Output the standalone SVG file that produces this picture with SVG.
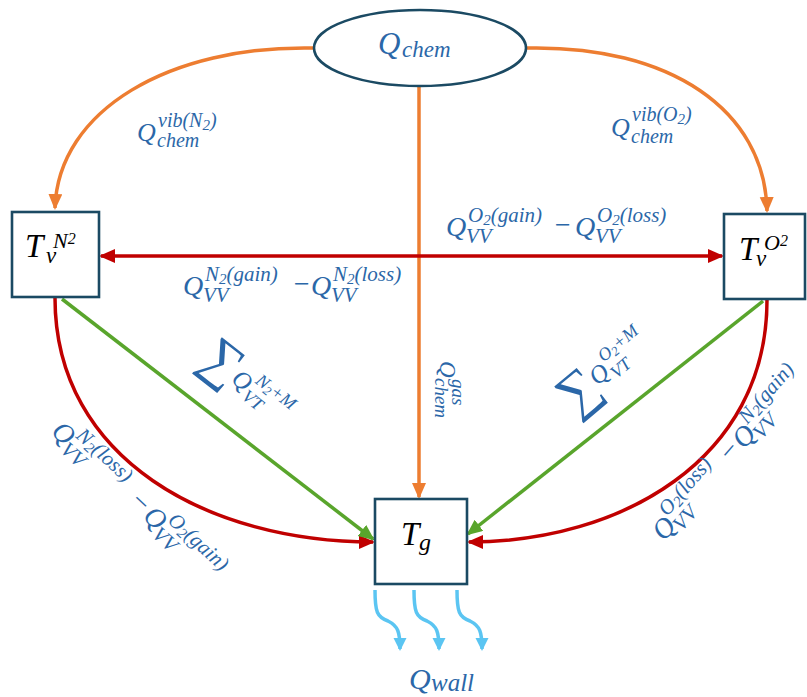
<svg xmlns="http://www.w3.org/2000/svg" width="807" height="697" viewBox="0 0 807 697">
<style>
.box{fill:#fff;stroke:#1B4A63;stroke-width:2.6}
.lbl{font-family:"Liberation Serif","DejaVu Serif",serif;font-style:italic;fill:#2B67A8}
.blk{font-family:"Liberation Serif","DejaVu Serif",serif;font-style:italic;fill:#000}
.q{font-size:28px}
.s{font-size:21px}
.ss{font-size:15px}
.or{fill:none;stroke:#ED7D31;stroke-width:3.5}
.rd{fill:none;stroke:#C00000;stroke-width:3.5}
.gr{fill:none;stroke:#59A52C;stroke-width:3.5}
.bl{fill:none;stroke:#5BC5F2;stroke-width:3.5}
.sig{font-family:"Liberation Serif","DejaVu Serif",serif;font-style:normal;fill:#2B67A8}
</style>
<defs>
<marker id="aO" markerUnits="userSpaceOnUse" markerWidth="18" markerHeight="16" refX="14" refY="7" orient="auto"><path d="M0,0 L16,7 L0,14 z" fill="#ED7D31"/></marker>
<marker id="aR" markerUnits="userSpaceOnUse" markerWidth="18" markerHeight="16" refX="14" refY="7" orient="auto-start-reverse"><path d="M0,0 L16,7 L0,14 z" fill="#C00000"/></marker>
<marker id="aG" markerUnits="userSpaceOnUse" markerWidth="18" markerHeight="16" refX="14" refY="7" orient="auto"><path d="M0,0 L16,7 L0,14 z" fill="#59A52C"/></marker>
<marker id="aB" markerUnits="userSpaceOnUse" markerWidth="16" markerHeight="14" refX="11" refY="6.5" orient="auto"><path d="M0,0 L13,6.5 L0,13 z" fill="#5BC5F2"/></marker>
</defs>

<g id="connectors">
<path class="or" d="M314,48 C170,45 58,110 55,208" marker-end="url(#aO)"/>
<path class="or" d="M527,48 C670,45 765,110 767,211" marker-end="url(#aO)"/>
<path class="or" d="M419,87 L419,497" marker-end="url(#aO)"/>
<path class="rd" d="M101,256 L722,256" marker-start="url(#aR)" marker-end="url(#aR)"/>
<path class="rd" d="M55,298 C55,460 210,542 373,542" marker-end="url(#aR)"/>
<path class="rd" d="M767,300 C767,460 620,542 469,542" marker-end="url(#aR)"/>
<path class="gr" d="M62,299 L373,539" marker-end="url(#aG)"/>
<path class="gr" d="M763,301 L468,534" marker-end="url(#aG)"/>
<path class="bl" d="M375,590 C375,612 377,617 388,621 C398,626 400,632 400,649" marker-end="url(#aB)"/>
<path class="bl" d="M414,590 C414,612 416,617 427,621 C437,626 439,632 439,649" marker-end="url(#aB)"/>
<path class="bl" d="M457,590 C457,612 459,617 470,621 C480,626 482,632 482,649" marker-end="url(#aB)"/>
</g>

<g id="node-qchem">
<ellipse cx="420" cy="48" rx="106" ry="38" class="box"/>
<text class="lbl" x="378" y="54" font-size="31">Q</text>
<text class="lbl" x="402" y="57" font-size="23">chem</text>
</g>

<g id="node-tvn2">
<rect class="box" x="12" y="212" width="87" height="85"/>
<text class="blk" x="25" y="257" font-size="33">T</text>
<text class="blk" x="46" y="263" font-size="23">v</text>
<text class="blk" x="53" y="248" font-size="22">N<tspan font-size="16" dy="-4">2</tspan></text>
</g>

<g id="node-tvo2">
<rect class="box" x="724" y="214" width="81" height="85"/>
<text class="blk" x="739" y="260" font-size="33">T</text>
<text class="blk" x="756" y="266" font-size="23">v</text>
<text class="blk" x="764" y="250" font-size="22">O<tspan font-size="16" dy="-4">2</tspan></text>
</g>

<g id="node-tg">
<rect class="box" x="375" y="499" width="92" height="85"/>
<text class="blk" x="401" y="545" font-size="33">T</text>
<text class="blk" x="419" y="550" font-size="24">g</text>
</g>

<g id="label-qwall">
<text class="lbl" x="409" y="689" font-size="30">Q</text>
<text class="lbl" x="431" y="691" font-size="25">wall</text>
</g>

<g id="labels">
<!-- Q_chem^{vib(N2)} -->
<text class="lbl" x="137" y="141" font-size="26">Q</text>
<text class="lbl" x="158" y="127" font-size="20">vib(N<tspan class="ss" dy="3">2</tspan><tspan dy="-3">)</tspan></text>
<text class="lbl" x="157" y="147" font-size="20">chem</text>
<!-- Q_chem^{vib(O2)} -->
<text class="lbl" x="611" y="136" font-size="26">Q</text>
<text class="lbl" x="632" y="121" font-size="20">vib(O<tspan class="ss" dy="3">2</tspan><tspan dy="-3">)</tspan></text>
<text class="lbl" x="631" y="143" font-size="20">chem</text>
<!-- O2 gain-loss -->
<text class="lbl q" x="446" y="236">Q</text>
<text class="lbl s" x="466" y="243">VV</text>
<text class="lbl s" x="468" y="222">O<tspan class="ss" dy="3">2</tspan><tspan dy="-3">(gain)</tspan></text>
<text class="lbl q" x="553" y="234">−</text>
<text class="lbl q" x="575" y="236">Q</text>
<text class="lbl s" x="595" y="243">VV</text>
<text class="lbl s" x="597" y="222">O<tspan class="ss" dy="3">2</tspan><tspan dy="-3">(loss)</tspan></text>
<!-- N2 gain-loss -->
<text class="lbl q" x="183" y="295">Q</text>
<text class="lbl s" x="203" y="302">VV</text>
<text class="lbl s" x="205" y="281">N<tspan class="ss" dy="3">2</tspan><tspan dy="-3">(gain)</tspan></text>
<text class="lbl q" x="292" y="293">−</text>
<text class="lbl q" x="311" y="295">Q</text>
<text class="lbl s" x="331" y="302">VV</text>
<text class="lbl s" x="333" y="281">N<tspan class="ss" dy="3">2</tspan><tspan dy="-3">(loss)</tspan></text>
<!-- Sum Q_VT^{N2+M} -->
<g transform="translate(223,335) rotate(38)">
<text class="sig" x="-3" y="38" font-size="54">∑</text>
<text class="lbl" x="34" y="32" font-size="25">Q</text>
<text class="lbl" x="53" y="39" font-size="18">VT</text>
<text class="lbl" x="54" y="18" font-size="18">N<tspan font-size="13" dy="3">2</tspan><tspan dy="-3">+M</tspan></text>
</g>
<!-- Sum Q_VT^{O2+M} -->
<g transform="translate(552,385) rotate(-40)">
<text class="sig" x="-3" y="38" font-size="54">∑</text>
<text class="lbl" x="34" y="30" font-size="25">Q</text>
<text class="lbl" x="53" y="37" font-size="18">VT</text>
<text class="lbl" x="54" y="16" font-size="18">O<tspan font-size="13" dy="3">2</tspan><tspan dy="-3">+M</tspan></text>
</g>
<!-- Q_chem^gas -->
<g transform="translate(440,361) rotate(90)">
<text class="lbl" x="0" y="0" font-size="23">Q</text>
<text class="lbl" x="18" y="-12" font-size="19">gas</text>
<text class="lbl" x="17" y="5" font-size="19">chem</text>
</g>
<!-- left rotated -->
<g transform="translate(50,433) rotate(42.7)">
<text class="lbl q" x="0" y="0">Q</text>
<text class="lbl s" x="19" y="7">VV</text>
<text class="lbl s" x="21" y="-14">N<tspan class="ss" dy="3">2</tspan><tspan dy="-3">(loss)</tspan></text>
<text class="lbl q" x="104" y="-2">−</text>
<text class="lbl q" x="125" y="0">Q</text>
<text class="lbl s" x="144" y="7">VV</text>
<text class="lbl s" x="146" y="-14">O<tspan class="ss" dy="3">2</tspan><tspan dy="-3">(gain)</tspan></text>
</g>
<!-- right rotated -->
<g transform="translate(664,542) rotate(-49)">
<text class="lbl q" x="0" y="0">Q</text>
<text class="lbl s" x="19" y="7">VV</text>
<text class="lbl s" x="21" y="-14">O<tspan class="ss" dy="3">2</tspan><tspan dy="-3">(loss)</tspan></text>
<text class="lbl q" x="102" y="-2">−</text>
<text class="lbl q" x="122" y="0">Q</text>
<text class="lbl s" x="141" y="7">VV</text>
<text class="lbl s" x="143" y="-14">N<tspan class="ss" dy="3">2</tspan><tspan dy="-3">(gain)</tspan></text>
</g>
</g>
</svg>
